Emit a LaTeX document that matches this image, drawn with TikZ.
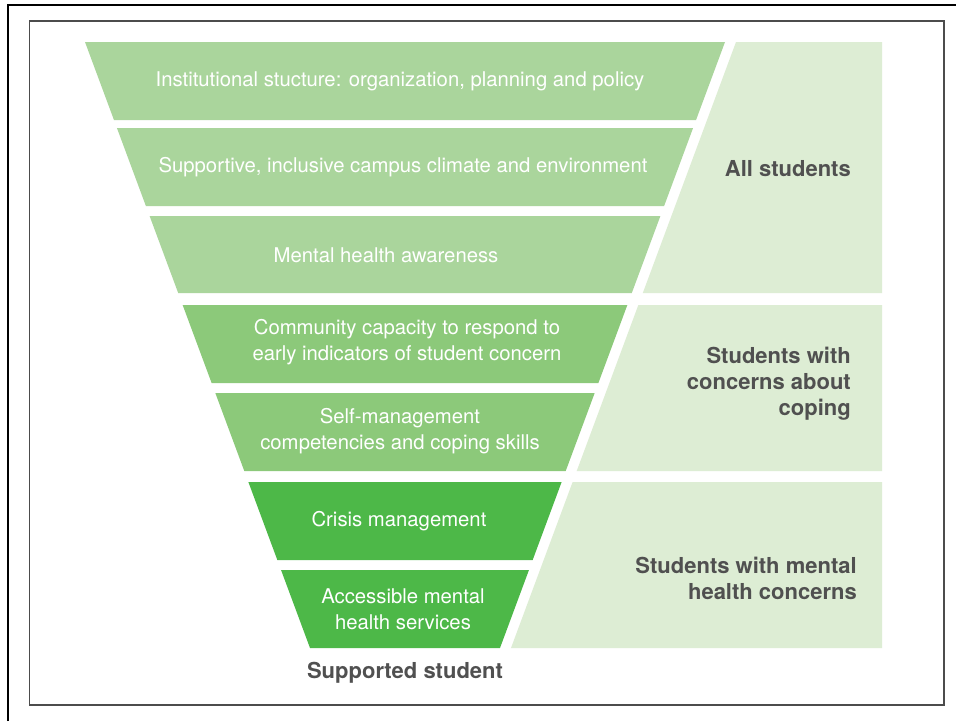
\documentclass[tikz,border=0pt]{standalone}
\usepackage{fontspec}
\setmainfont{TeX Gyre Heros}
\usetikzlibrary{calc}
\definecolor{funA}{RGB}{170,213,156}
\definecolor{funB}{RGB}{140,201,122}
\definecolor{funC}{RGB}{77,184,72}
\definecolor{panG}{RGB}{221,237,212}
\definecolor{txtG}{RGB}{80,80,80}
\begin{document}
\begin{tikzpicture}[x=1pt,y=-1pt,every node/.style={inner sep=0pt},
 band/.style={text=white,font=\fontsize{20.3}{26}\selectfont,align=center},
 grp/.style={text=txtG,font=\fontsize{22}{26}\selectfont\bfseries,align=right,anchor=east}]
\useasboundingbox(0,0)rectangle(956,721);
\fill[white](0,0)rectangle(956,721);
\draw[line width=2.5pt](8,721)--(8,5)--(956,5);
\draw[line width=1.3pt,black!70](29.5,21)rectangle(944,705);
% funnel
\foreach \t/\b/\c in {42/120/funA,128/206/funA,216/293/funA,305/383/funB,393/471/funB,482/560/funC,570/648/funC}
{
\pgfmathsetmacro\wt{320-0.3713*(\t-42)}
\pgfmathsetmacro\wb{320-0.3713*(\b-42)}
\fill[\c](405-\wt,\t)--(405+\wt,\t)--(405+\wb,\b)--(405-\wb,\b)--cycle;
}
% side panels
\foreach \t/\b in {42/293,305/471,482/648}
{
\pgfmathsetmacro\wt{331-0.3713*(\t-42)}
\pgfmathsetmacro\wb{331-0.3713*(\b-42)}
\fill[panG](405+\wt,\t)--(882,\t)--(882,\b)--(405+\wb,\b)--cycle;
}
\node[band](b1)at(400,81){Institutional stucture: organization, planning and policy};
\node[band](b2)at(403,167){Supportive, inclusive campus climate and environment};
\node[band](b3)at(386,255){Mental health awareness};
\node[band](b4)at(407,342){Community capacity to respond to\\early indicators of student concern};
\node[band](b5)at(400,431){Self-management\\competencies and coping skills};
\node[band](b6)at(399,521){Crisis management};
\node[band](b7)at(403,609){Accessible mental\\health services};
\node[grp](g1)at(851,169){All students};
\node[grp](g2)at(851,384){Students with\\concerns about\\coping};
\node[grp](g3)at(857,578){Students with mental\\health concerns};
\node[grp,anchor=center](sup)at(405,673){Supported student};
\end{tikzpicture}
\end{document}
